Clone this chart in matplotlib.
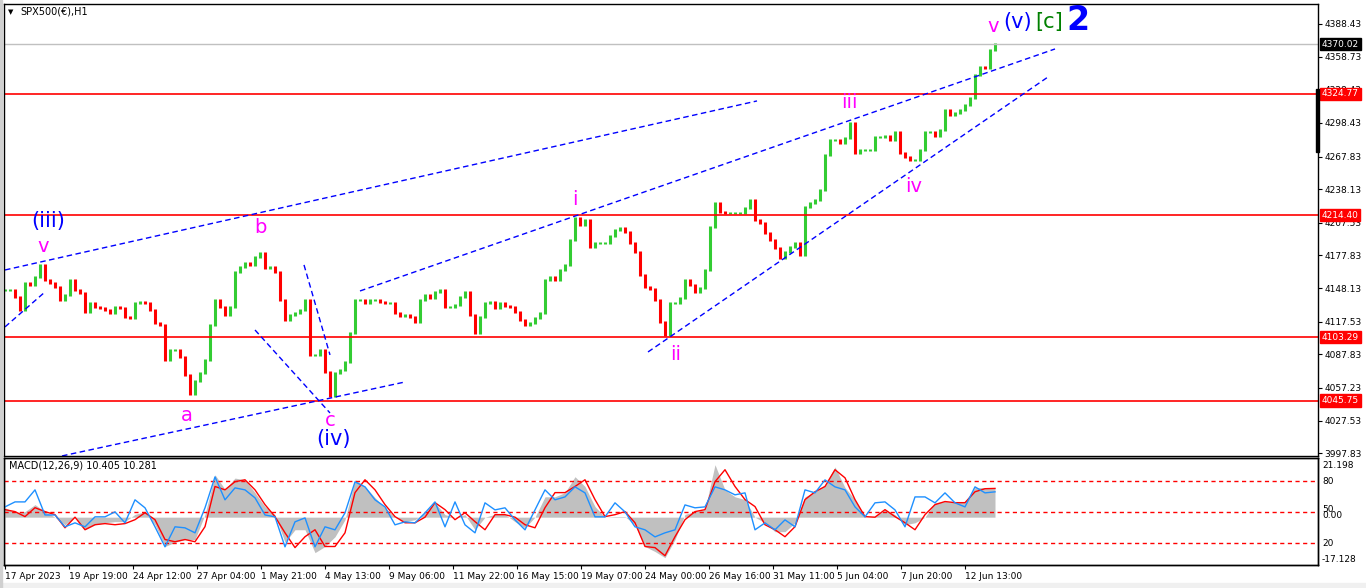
import matplotlib
matplotlib.use("Agg")
import matplotlib.pyplot as plt
from matplotlib.patches import Rectangle
import numpy as np

# closes sampled every 5 hourly bars, 17 Apr - 13 Jun 2023
closes = [
    4146.4, 4146.4, 4140.1, 4128.2, 4152.8, 4151.0, 4158.3, 4169.2, 4155.5, 4152.8,
    4149.2, 4137.3, 4141.9, 4155.5, 4146.4, 4143.7, 4126.4, 4134.6, 4131.0, 4130.0,
    4128.2, 4125.5, 4131.0, 4130.0, 4121.9, 4121.0, 4134.6, 4135.5, 4134.6, 4128.2,
    4116.4, 4114.6, 4082.7, 4091.8, 4091.8, 4085.5, 4069.1, 4052.0, 4063.6, 4070.9,
    4082.7, 4114.6, 4137.3, 4131.0, 4123.7, 4131.0, 4162.8, 4167.4, 4171.0, 4169.2,
    4176.5, 4180.0, 4166.4, 4167.4, 4162.8, 4137.3, 4119.1, 4123.7, 4125.5, 4128.2,
    4137.3, 4087.3, 4087.3, 4091.8, 4071.8, 4050.0, 4070.9, 4073.6, 4080.9, 4107.3,
    4137.3, 4137.3, 4134.6, 4137.3, 4137.3, 4135.5, 4134.6, 4134.6, 4125.5, 4122.8,
    4123.7, 4121.9, 4117.3, 4137.3, 4141.9, 4139.2, 4144.6, 4146.4, 4131.0, 4131.0,
    4132.8, 4140.1, 4144.6, 4123.7, 4107.3, 4121.9, 4134.6, 4135.5, 4130.0, 4134.6,
    4131.9, 4131.0, 4126.4, 4119.1, 4114.6, 4116.4, 4121.0, 4125.5, 4155.5, 4158.3,
    4155.5, 4164.6, 4169.2, 4191.9, 4212.0, 4205.6, 4210.1, 4185.6, 4189.2, 4189.2,
    4189.2, 4195.6, 4201.0, 4202.8, 4199.2, 4189.2, 4181.0, 4160.1, 4149.2, 4147.3,
    4137.3, 4117.3, 4106.0, 4134.6, 4134.6, 4139.2, 4155.5, 4151.0, 4144.6, 4148.2,
    4164.6, 4203.8, 4225.6, 4217.4, 4216.5, 4216.5, 4216.5, 4216.5, 4221.0, 4228.3,
    4210.1, 4207.4, 4198.3, 4191.9, 4184.6, 4175.5, 4181.0, 4185.6, 4189.2, 4178.3,
    4221.9, 4225.6, 4228.3, 4237.4, 4269.3, 4282.9, 4282.9, 4280.2, 4284.7, 4298.0,
    4271.1, 4273.8, 4273.8, 4273.8, 4285.6, 4285.6, 4286.5, 4282.9, 4290.2, 4271.1,
    4267.4, 4264.7, 4264.7, 4273.8, 4290.2, 4290.2, 4286.5, 4292.0, 4310.2, 4305.6,
    4307.5, 4310.2, 4314.7, 4321.1, 4342.0, 4349.3, 4348.4, 4364.8, 4370.0,
]

# MACD panel, sampled every 10 bars
macd_hist = [
    3.4, 1.6, 2.0, 4.5, 2.0, 0.0, -2.7, 0.0, -4.5, -2.7,
    -2.0, -1.6, -1.6, 1.0, 2.0, -2.7, -10.5, -9.0, -8.0, -8.0,
    1.0, 15.2, 10.0, 14.0, 13.4, 8.8, 3.8, 0.9, -9.0, -4.5,
    -4.5, -12.7, -10.5, -7.0, -0.9, 13.4, 11.0, 7.0, 3.4, 0.0,
    -1.6, -0.9, 1.6, 5.2, 0.9, 0.0, 0.9, -4.5, 0.0, 1.0,
    1.0, -1.6, -3.8, 0.0, 7.3, 7.3, 8.8, 14.5, 11.0, 3.8,
    0.0, 0.2, 0.2, -2.7, -10.5, -12.3, -14.5, -8.0, 1.0, 2.0,
    2.7, 18.8, 9.8, 7.3, 6.3, 0.0, -2.0, -5.2, -5.2, -2.0,
    7.3, 9.1, 11.6, 18.0, 10.6, 6.3, 0.0, 0.2, 2.7, 0.9,
    -2.7, -2.0, 0.0, 5.2, 5.6, 5.2, 5.6, 10.6, 10.6, 10.4,
]
macd_signal = [
    2.7, 2.0, 0.2, 3.4, 2.0, 0.9, -3.8, 0.0, -4.5, -2.7,
    -2.3, -2.7, -2.3, -0.9, 1.6, -0.9, -8.0, -8.8, -8.0, -8.8,
    -3.4, 11.0, 9.8, 12.7, 13.4, 9.8, 4.5, 0.2, -5.6, -10.9,
    -7.0, -4.5, -10.5, -10.5, -5.6, 8.8, 13.4, 9.8, 4.5, 0.2,
    -2.0, -2.0, 0.0, 5.2, 2.7, -0.9, 1.6, -1.6, -4.5, 0.9,
    0.9, 0.0, -2.7, -3.8, 3.4, 8.8, 8.8, 11.0, 13.4, 6.3,
    0.2, 0.9, 2.0, -2.0, -10.5, -10.9, -13.8, -7.0, -0.9, 2.0,
    2.7, 12.7, 17.0, 11.0, 6.3, 3.8, -2.7, -4.5, -7.0, -3.4,
    6.3, 9.1, 11.0, 17.0, 14.1, 6.3, 0.2, 0.0, 2.7, 0.2,
    -2.0, -4.5, 0.9, 4.5, 5.6, 5.2, 5.2, 9.1, 10.2, 10.3,
]
osc_line = [
    54.8, 59.6, 59.6, 71.2, 47.0, 47.0, 35.6, 39.4, 35.6, 45.2,
    45.2, 50.0, 39.4, 61.6, 53.9, 35.6, 16.3, 35.6, 34.6, 29.8,
    53.9, 83.7, 61.6, 73.1, 71.2, 63.5, 47.0, 45.2, 16.3, 40.4,
    44.2, 16.3, 35.6, 32.7, 49.0, 78.9, 74.1, 61.6, 54.8, 37.5,
    40.4, 39.4, 49.0, 59.6, 35.6, 59.6, 37.5, 29.8, 58.7, 51.9,
    53.9, 42.3, 32.7, 51.9, 71.2, 61.6, 64.4, 74.1, 68.3, 45.2,
    45.2, 58.7, 50.0, 35.6, 32.7, 25.9, 29.8, 32.7, 56.7, 53.9,
    54.8, 74.1, 71.2, 66.4, 68.3, 32.7, 39.4, 32.7, 42.3, 35.6,
    71.2, 68.3, 80.8, 74.1, 71.2, 54.8, 45.2, 58.7, 59.6, 51.9,
    35.6, 64.4, 64.4, 58.7, 68.3, 58.7, 54.8, 74.1, 68.3, 69.3,
]

price_ticks = [4388.43, 4358.73, 4328.43, 4298.43, 4267.83, 4238.13, 4207.53,
               4177.83, 4148.13, 4117.53, 4087.83, 4057.23, 4027.53, 3997.83]
date_labels = ["17 Apr 2023", "19 Apr 19:00", "24 Apr 12:00", "27 Apr 04:00",
               "1 May 21:00", "4 May 13:00", "9 May 06:00", "11 May 22:00",
               "16 May 15:00", "19 May 07:00", "24 May 00:00", "26 May 16:00",
               "31 May 11:00", "5 Jun 04:00", "7 Jun 20:00", "12 Jun 13:00"]
red_levels = [4324.77, 4214.40, 4103.29, 4045.75]
last_price = 4370.02

# trendlines: (hour0, price0, hour1, price1)
trendlines = [
    (0, 4164.6, 752, 4318.4),
    (0, 4112.8, 40, 4144.6),
    (355, 4145.5, 1050, 4365.7),
    (643, 4090.0, 1043, 4340.2),
    (57, 3995.4, 400, 4062.7),
    (299, 4169.2, 325, 4087.3),
    (250, 4110.0, 325, 4034.5),
]

# wave labels: text, hour, price, colour, size
waves = [
    ("(iii)", 43, 4209, "#0000ff", 15),
    ("v", 38, 4186, "#ff00ff", 14),
    ("b", 255, 4203, "#ff00ff", 14),
    ("a", 182, 4032, "#ff00ff", 14),
    ("c", 325, 4028, "#ff00ff", 14),
    ("(iv)", 329, 4011, "#0000ff", 15),
    ("i", 570, 4229, "#ff00ff", 14),
    ("ii", 671, 4088, "#ff00ff", 14),
    ("iii", 844, 4317, "#ff00ff", 14),
    ("iv", 909, 4241, "#ff00ff", 14),
    ("v", 988, 4386, "#ff00ff", 14),
    ("(v)", 1013, 4390, "#0000ff", 15),
    ("[c]", 1044, 4390, "#008000", 15),
]

W, H = 1366, 588
fig = plt.figure(figsize=(W / 100, H / 100), dpi=100)
fig.patch.set_facecolor("white")


def fx(px):
    return px / W


def fy(py):
    return 1 - py / H


ax = fig.add_axes([fx(4), fy(455.5), fx(1314), (455.5 - 4) / H])
axm = fig.add_axes([fx(4), fy(565), fx(1314), (565 - 458) / H])

# candles
hours = np.arange(len(closes)) * 5
c = np.array(closes)
o = np.concatenate([[c[0]], c[:-1]])
cols = np.where(c >= o, "#33cc33", "#ff0000")
ax.vlines(hours, np.minimum(o, c) - 1.2, np.maximum(o, c) + 1.2, colors=cols, lw=2.2)

ax.axhline(last_price, color="#c0c0c0", lw=1)
for lv in red_levels:
    ax.axhline(lv, color="#ff0000", lw=1.2)

for h0, p0, h1, p1 in trendlines:
    ax.plot([h0, h1], [p0, p1], color="#0000ff", lw=1, ls=(0, (4, 2.5)))

for txt, h, p, col, sz in waves:
    ax.text(h, p, txt, color=col, fontsize=sz, ha="center", va="center")
ax.text(1073, 4392, "2", color="#0000ff", fontsize=24, fontweight="bold",
        ha="center", va="center")

ax.set_xlim(-1, 1313)
ax.set_ylim(3995.8, 4406.6)
ax.set_xticks([])
ax.yaxis.tick_right()
ax.set_yticks(price_ticks)
ax.set_yticklabels([f"{t:.2f}" for t in price_ticks])
ax.tick_params(axis="y", length=3, labelsize=6.5, pad=1.5)

ytr = ax.get_yaxis_transform()
for lv in red_levels:
    ax.text(1.003, lv, f"{lv:.2f}", transform=ytr, color="white", fontsize=6.5,
            va="center", ha="left",
            bbox=dict(facecolor="#ff0000", edgecolor="#ff0000", pad=1.2))
ax.text(1.003, last_price, f"{last_price:.2f}", transform=ytr, color="white",
        fontsize=6.5, va="center", ha="left",
        bbox=dict(facecolor="black", edgecolor="black", pad=1.2))

# MACD panel
mh = np.arange(len(macd_hist)) * 10
axm.fill_between(mh, 0, macd_hist, color="#c0c0c0", lw=0)
axm.plot(mh, macd_signal, color="#ff0000", lw=1)
axm.set_xlim(-1, 1313)
axm.set_ylim(-17.128, 21.198)
axm.set_yticks([])
axm.set_xticks(np.arange(len(date_labels)) * 64)
axm.set_xticklabels(date_labels)
axm.tick_params(axis="x", length=3, labelsize=6.5, pad=2)
for lbl in axm.get_xticklabels():
    lbl.set_ha("left")

axo = axm.twinx()
axo.set_ylim(-1.2, 101.9)
for lv in (80, 50, 20):
    axo.axhline(lv, color="#ff0000", lw=1, ls=(0, (3, 2.5)))
axo.plot(mh, osc_line, color="#1e90ff", lw=1)
axo.set_yticks([])
axo.set_xlim(-1, 1313)

for a in (ax, axm, axo):
    for s in a.spines.values():
        s.set_color("black")
        s.set_linewidth(1)

for txt, py in [("21.198", 465), ("80", 481), ("50", 510), ("0.00", 516),
                ("20", 543), ("-17.128", 560)]:
    fig.text(fx(1322), fy(py), txt, fontsize=6.5, va="center", ha="left")

fig.text(fx(20), fy(12), "SPX500(€),H1", fontsize=7, va="center")
fig.text(fx(8), fy(12), "▼", fontsize=5, va="center")
fig.text(fx(9), fy(466), "MACD(12,26,9) 10.405 10.281", fontsize=7, va="center")

fig.add_artist(Rectangle((fx(1316), fy(152)), fx(3), (152 - 89) / H,
                         transform=fig.transFigure, color="black"))
fig.add_artist(Rectangle((0, 0), 1, 5 / H, transform=fig.transFigure,
                         color="#f0f0f0"))
fig.add_artist(Rectangle((0, 0), fx(2), 1, transform=fig.transFigure,
                         color="#d0d0d0"))

fig.savefig("out.png", dpi=100)
